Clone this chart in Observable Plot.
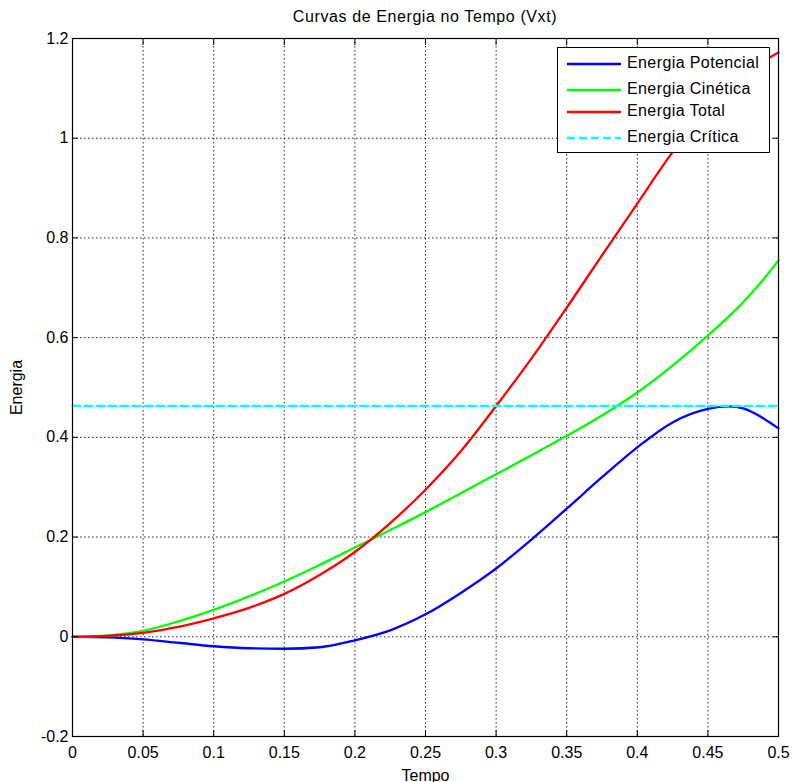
<!DOCTYPE html>
<html>
<head>
<meta charset="utf-8">
<script src="https://cdn.jsdelivr.net/npm/d3@7"></script>
<script src="https://cdn.jsdelivr.net/npm/@observablehq/plot@0.6"></script>
<style>
  html, body { margin: 0; padding: 0; background: #fff; }
  body { width: 792px; height: 782px; position: relative; font-family: "Liberation Sans", Arial, sans-serif; overflow: hidden; }
  #title { position: absolute; left: 72px; width: 706px; top: 8px; text-align: center; font-size: 16px; letter-spacing: 0.6px; color: #000; }
  #chart { position: absolute; left: 0; top: 30px; }
  #legend { position: absolute; left: 557px; top: 47px; width: 213px; height: 106px; border: 1px solid #000; background: #fff; box-sizing: border-box; }
  .row { position: absolute; left: 0; height: 20px; width: 100%; }
  .row svg { position: absolute; left: 9px; top: 4px; }
  .row span { position: absolute; left: 69px; top: 0px; font-size: 16px; letter-spacing: 0.4px; color: #000; white-space: nowrap; }
</style>
</head>
<body>
<div id="title">Curvas de Energia no Tempo (Vxt)</div>
<div id="chart"></div>
<div id="legend"></div>
<script>
// Time samples (s)
const tempo = [0, 0.025, 0.05, 0.075, 0.1, 0.125, 0.15, 0.175, 0.2, 0.225, 0.25, 0.275,
               0.3, 0.325, 0.35, 0.375, 0.4, 0.425, 0.45, 0.465, 0.475, 0.49, 0.5];
// Energy curves
const potencial = [0, -0.001, -0.005, -0.012, -0.019, -0.023, -0.024, -0.021, -0.007, 0.013, 0.045, 0.088,
                   0.137, 0.195, 0.257, 0.32, 0.38, 0.43, 0.457, 0.462, 0.458, 0.437, 0.418];
const cinetica = [0, 0.003, 0.012, 0.031, 0.054, 0.081, 0.111, 0.144, 0.179, 0.214, 0.25, 0.288,
                  0.326, 0.364, 0.403, 0.444, 0.49, 0.544, 0.604, 0.643, 0.671, 0.719, 0.755];
const total = [0, 0.002, 0.008, 0.02, 0.037, 0.058, 0.086, 0.124, 0.17, 0.228, 0.295, 0.372,
               0.463, 0.558, 0.66, 0.765, 0.869, 0.972, 1.06, 1.103, 1.129, 1.156, 1.172];
const energiaCritica = 0.463;

// Axis ticks
const xTicks = [0, 0.05, 0.1, 0.15, 0.2, 0.25, 0.3, 0.35, 0.4, 0.45, 0.5];
const yTicks = [-0.2, 0, 0.2, 0.4, 0.6, 0.8, 1, 1.2];

// Series names and colours
const seriesNames = ["Energia Potencial", "Energia Cinética", "Energia Total", "Energia Crítica"];
const seriesColors = ["#0000ff", "#00ff00", "#ff0000", "#00ffff"];

const rows = (values) => tempo.map((t, i) => ({t, e: values[i]}));
const critRows = [{t: tempo[0], e: energiaCritica}, {t: tempo[tempo.length - 1], e: energiaCritica}];

const fmt = d => String(d);
const gridStyle = {stroke: "#000", strokeOpacity: 0.85, strokeDasharray: "1.5,2.5", strokeWidth: 1};
const lineWidth = 2.3;

const chart = Plot.plot({
  width: 792,
  height: 752,
  marginTop: 8,
  marginLeft: 72,
  marginRight: 14,
  marginBottom: 46,
  style: {fontFamily: "'Liberation Sans', Arial, sans-serif", fontSize: "16px", color: "#000", overflow: "visible"},
  x: {domain: [0, 0.5]},
  y: {domain: [-0.2, 1.2]},
  marks: [
    Plot.gridX(xTicks, gridStyle),
    Plot.gridY(yTicks, gridStyle),
    Plot.line(rows(potencial), {x: "t", y: "e", stroke: seriesColors[0], strokeWidth: lineWidth, curve: "monotone-x"}),
    Plot.line(rows(cinetica), {x: "t", y: "e", stroke: seriesColors[1], strokeWidth: lineWidth, curve: "monotone-x"}),
    Plot.line(rows(total), {x: "t", y: "e", stroke: seriesColors[2], strokeWidth: lineWidth, curve: "monotone-x"}),
    Plot.line(critRows, {x: "t", y: "e", stroke: seriesColors[3], strokeWidth: lineWidth, strokeDasharray: "8,4"}),
    // inward tick marks on all four sides
    Plot.axisX(xTicks, {anchor: "bottom", tickSize: -6, tickFormat: () => "", label: null}),
    Plot.axisX(xTicks, {anchor: "top", tickSize: -6, tickFormat: () => "", label: null}),
    Plot.axisY(yTicks, {anchor: "left", tickSize: -6, tickFormat: () => "", label: null}),
    Plot.axisY(yTicks, {anchor: "right", tickSize: -6, tickFormat: () => "", label: null}),
    // tick labels and axis titles
    Plot.axisX(xTicks, {anchor: "bottom", tickSize: 0, tickPadding: 10, tickFormat: fmt,
      label: "Tempo", labelAnchor: "center", labelArrow: "none", labelOffset: 44}),
    Plot.axisY(yTicks, {anchor: "left", tickSize: 0, tickPadding: 4, tickFormat: fmt,
      label: "Energia", labelAnchor: "center", labelArrow: "none", labelOffset: 62}),
    Plot.frame({stroke: "#000", strokeWidth: 1.2})
  ]
});
document.getElementById("chart").appendChild(chart);

// Legend box
const legend = document.getElementById("legend");
const rowTops = [6, 32, 54, 80];
seriesNames.forEach((name, i) => {
  const row = document.createElement("div");
  row.className = "row";
  row.style.top = rowTops[i] + "px";
  const dash = i === 3 ? ' stroke-dasharray="8,4"' : "";
  row.innerHTML = `<svg width="54" height="12"><line x1="0" y1="6" x2="54" y2="6" stroke="${seriesColors[i]}" stroke-width="2.5"${dash}/></svg><span>${name}</span>`;
  legend.appendChild(row);
});
</script>
</body>
</html>
